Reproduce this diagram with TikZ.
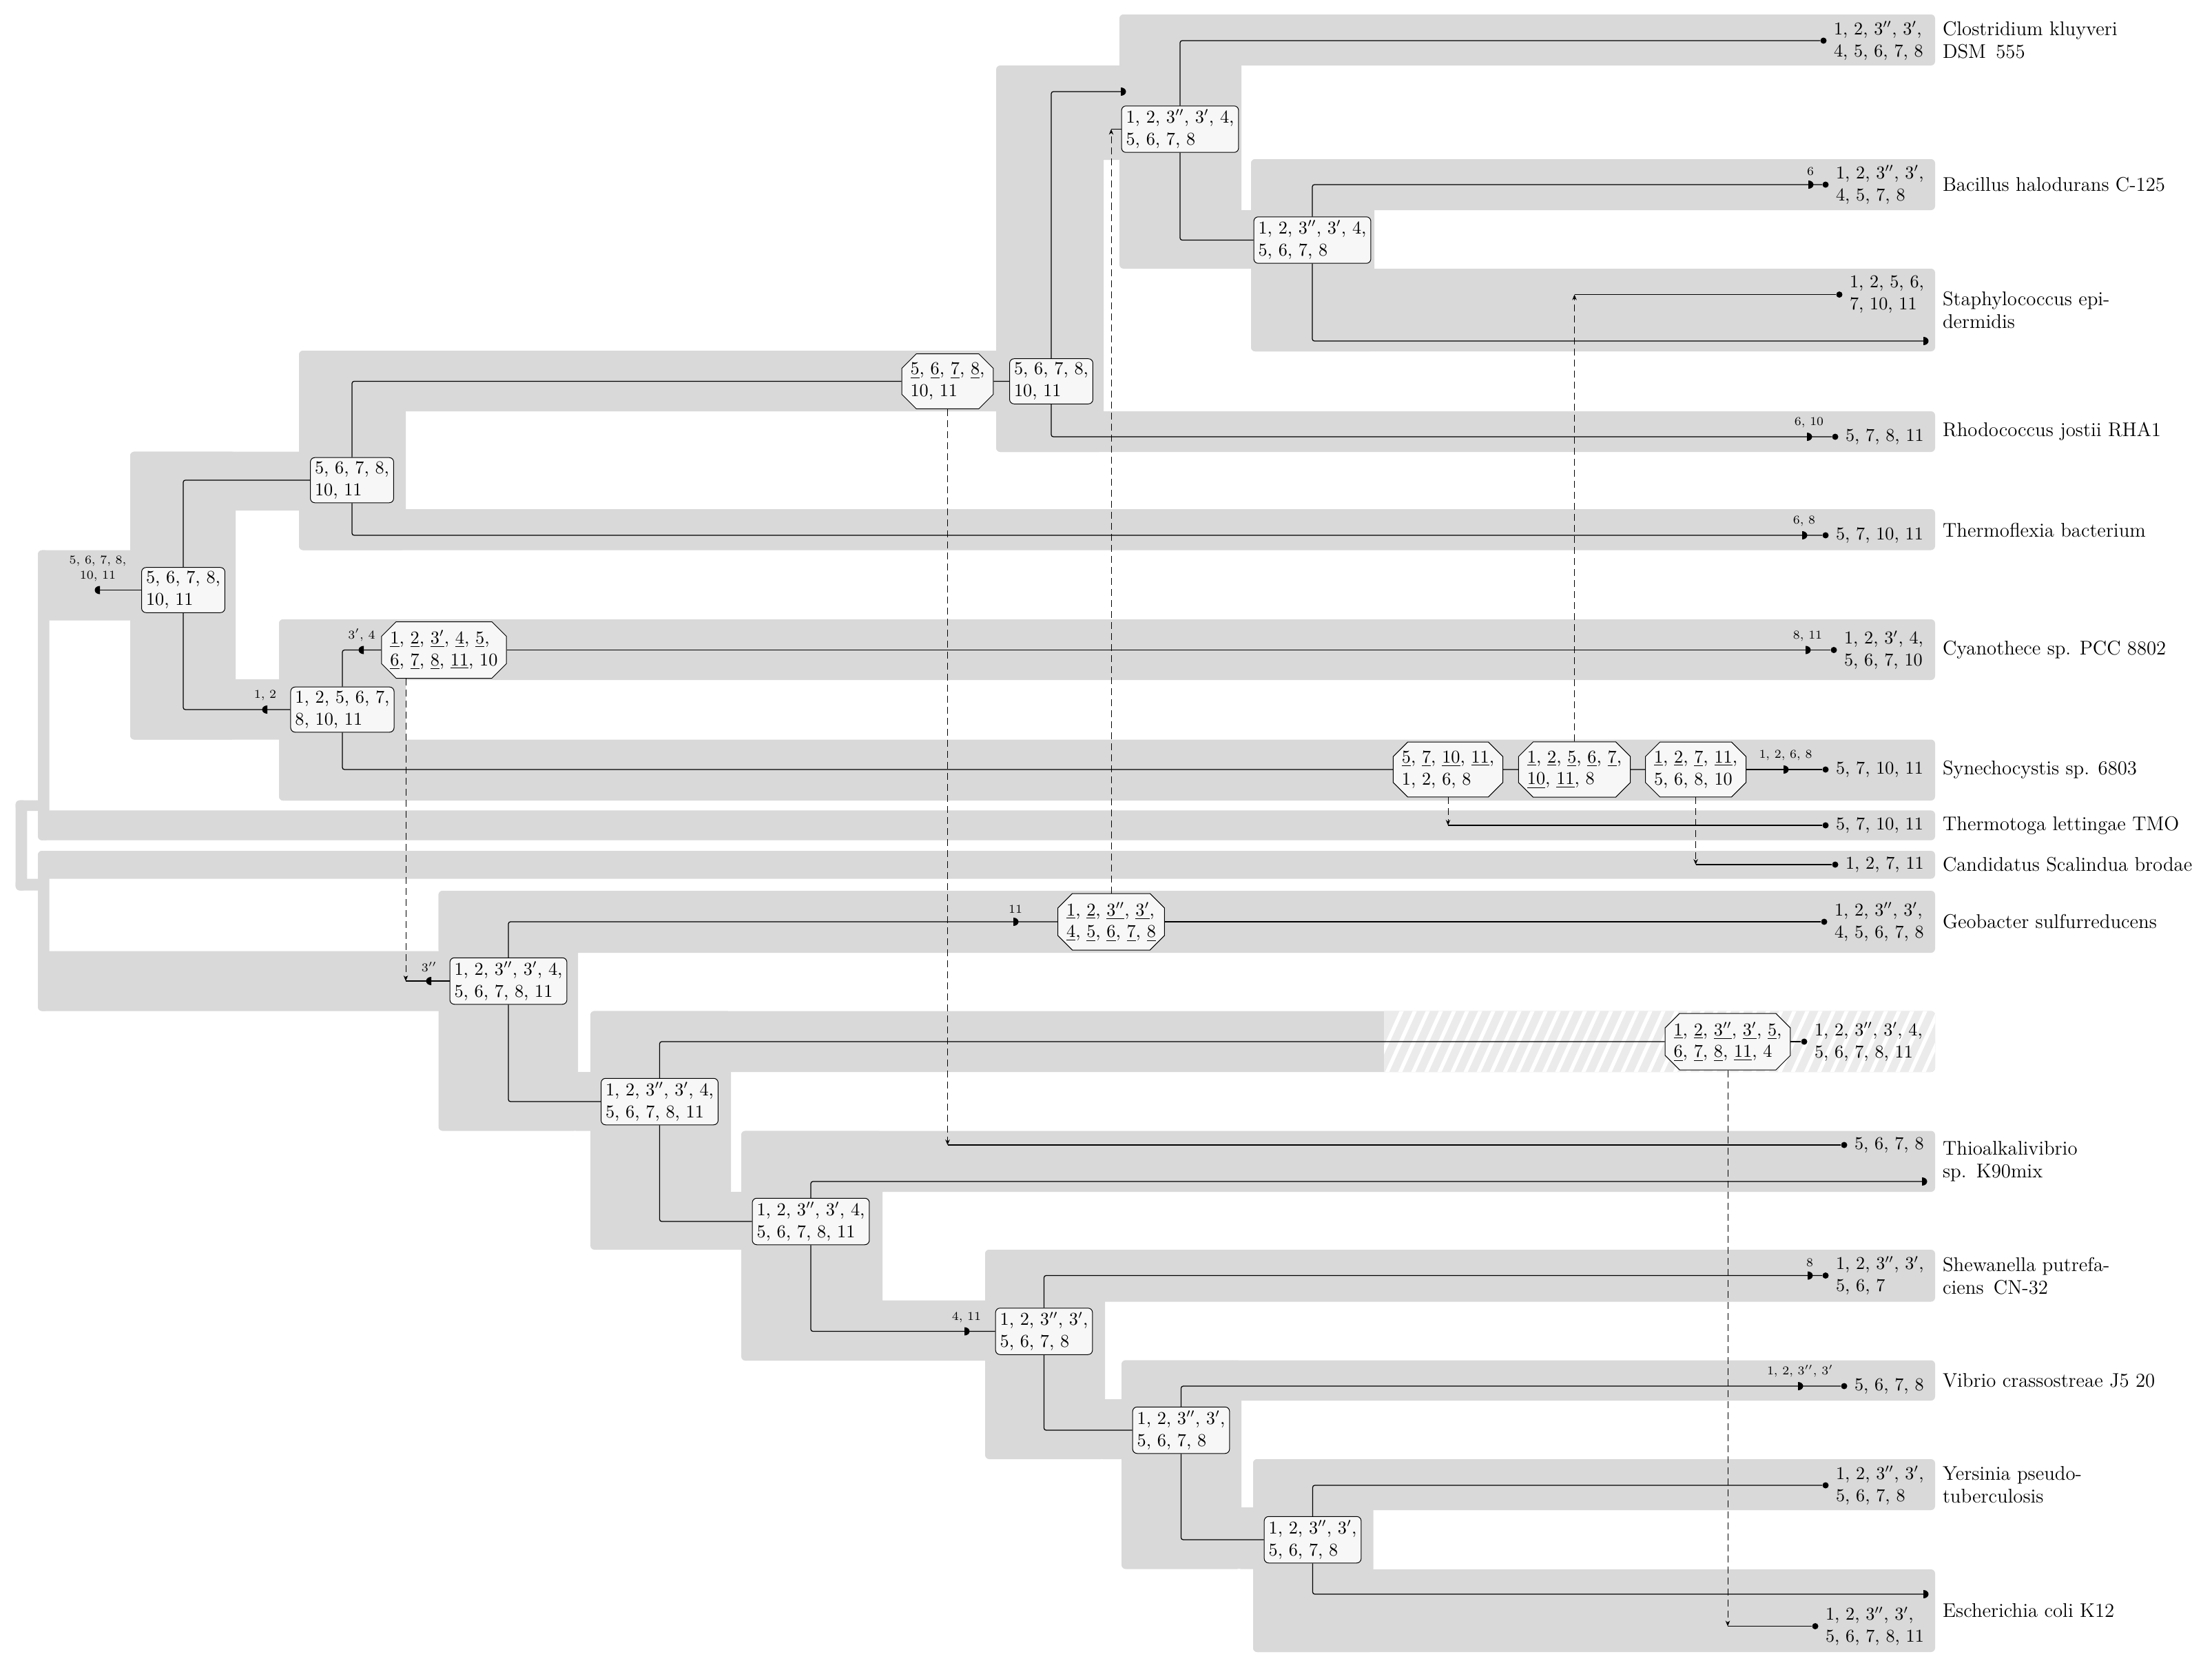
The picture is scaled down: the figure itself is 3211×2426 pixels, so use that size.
\documentclass[tikz,border=0pt]{standalone}
\usepackage{fontspec}
\usetikzlibrary{positioning,shapes.misc,arrows.meta}

\definecolor{bandgray}{HTML}{D9D9D9}
\definecolor{hatchgray}{HTML}{EBEBEB}
\definecolor{nodefill}{HTML}{F7F7F7}

\newcommand{\genefont}{\fontsize{10.5}{12.7}\selectfont}
\newcommand{\lossfont}{\fontsize{7}{8.5}\selectfont}
\newcommand{\spfont}{\fontsize{11.5}{13}\selectfont}
\newcommand{\twopr}{$''$}
\newcommand{\onepr}{$'$}
\newcommand{\xul}[1]{\underline{#1}}

\tikzstyle{band} = [fill=bandgray, rounded corners=2.4pt]
\tikzstyle{gnode} = [rectangle, rounded corners=2.6pt, draw=black, line width=0.4pt, fill=nodefill, align=left, inner xsep=2.6pt, inner ysep=2.2pt, font=\genefont]
\tikzstyle{xnode} = [chamfered rectangle, chamfered rectangle xsep=5pt, chamfered rectangle ysep=3.4pt, draw=black, line width=0.4pt, fill=nodefill, align=left, inner xsep=0pt, inner ysep=1.6pt, font=\genefont]
\tikzstyle{gline} = [line width=0.5pt, rounded corners=1.2pt]
\tikzstyle{xfer} = [line width=0.4pt, dash pattern=on 4pt off 2.4pt, -{Stealth[length=3.2pt,width=2.6pt]}]
\tikzstyle{leafdot} = [circle, fill=black, inner sep=0pt, minimum size=3.6pt]
\tikzstyle{leaflbl} = [anchor=west, align=left, inner sep=0pt, font=\genefont]
\tikzstyle{species} = [anchor=west, align=left, inner sep=0pt, font=\spfont]
\tikzstyle{losslbl} = [inner sep=0pt, align=center, font=\lossfont]

\tikzset{
  lossr/.pic={\fill (0pt,-2.4pt) arc[start angle=-90, end angle=90, x radius=3pt, y radius=2.4pt] -- cycle;},
  lossl/.pic={\fill (0pt,2.4pt) arc[start angle=90, end angle=270, x radius=3pt, y radius=2.4pt] -- cycle;}
}

\begin{document}
\begin{tikzpicture}[x=0.4pt, y=-0.4pt]
\useasboundingbox (0,0) rectangle (3211,2426);

% species tree, upper part
\fill[band] (1625,21) rectangle (2809,95);
\fill[band] (1625,21) rectangle (1802,390);
\fill[band] (1446,95) rectangle (1602,656);
\fill[band] (1590,95) rectangle (1640,232);
\fill[band] (1816,231) rectangle (2809,305);
\fill[band] (1816,231) rectangle (1995,510);
\fill[band] (1816,390) rectangle (2809,510);
\fill[band] (1790,305) rectangle (1830,390);
\fill[band] (1446,597) rectangle (2809,656);
\fill[band] (434,509) rectangle (1460,597);
\fill[band] (434,509) rectangle (589,798.5);
\fill[band] (434,739) rectangle (2809,798.5);
\fill[band] (189,655.6) rectangle (342,1073.5);
\fill[band] (189,655.6) rectangle (445,741);
\fill[band] (405,899) rectangle (589,1162);
\fill[band] (405,899) rectangle (2809,987);
\fill[band] (405,1073.5) rectangle (2809,1162);
\fill[band] (189,986) rectangle (415,1073.5);
\fill[band] (55,798.7) rectangle (200,900.5);
\fill[band] (55,798.7) rectangle (71.7,1219.7);
\fill[band] (55,1176.4) rectangle (2809,1219.7);
\fill[band] (22.7,1161.7) rectangle (39.3,1292.5);
\fill[band] (22.7,1161.7) rectangle (65,1177);
\fill[band] (22.7,1275.5) rectangle (65,1292.5);
\fill[band] (55,1235) rectangle (2809,1275.5);
\fill[band] (55,1235) rectangle (71.7,1467.5);
\fill[band] (55,1380.5) rectangle (650,1467.5);

% species tree, lower part
\fill[band] (636.5,1293) rectangle (839,1641.5);
\fill[band] (636.5,1293) rectangle (2809,1383);
\fill[band] (830,1556) rectangle (870,1641.5);
\fill[band] (857,1467.5) rectangle (1061,1814);
\fill[band] (857,1467.5) rectangle (2809,1556);
\fill[band] (1050,1730) rectangle (1090,1814);
\fill[band] (1076,1641.5) rectangle (1281,1975);
\fill[band] (1076,1641.5) rectangle (2809,1730);
\fill[band] (1270,1887.5) rectangle (1440,1975);
\fill[band] (1430,1814) rectangle (1604,2118);
\fill[band] (1430,1814) rectangle (2809,1889.5);
\fill[band] (1595,2031) rectangle (1640,2118);
\fill[band] (1628,1974.5) rectangle (1802,2277.5);
\fill[band] (1628,1974.5) rectangle (2809,2033);
\fill[band] (1795,2188) rectangle (1830,2277.5);
\fill[band] (1819,2118) rectangle (1993.5,2398);
\fill[band] (1819,2118) rectangle (2809,2192);
\fill[band] (1819,2278) rectangle (2809,2398);

\begin{scope}
  \clip[rounded corners=2.4pt] (857,1467.5) rectangle (2809,1556);
  \clip (2009,1400) rectangle (2900,1600);
  \fill[hatchgray] (2009,1400) rectangle (2900,1600);
  \foreach \k in {0,...,45}
    \draw[white, line width=2.2pt] (1990+19*\k,1566) -- ++(50,-110);
\end{scope}

% gene tree
\node[gnode] (L1) at (266,856.5) {5, 6, 7, 8,\\10, 11};
\node[gnode] (L2) at (511,697) {5, 6, 7, 8,\\10, 11};
\node[xnode] (R1) at (1375.5,553.5) {\xul{5}, \xul{6}, \xul{7}, \xul{8},\\10, 11};
\node[gnode] (R2) at (1526,553.5) {5, 6, 7, 8,\\10, 11};
\node[gnode] (C1) at (1713,187.5) {1, 2, 3\twopr, 3\onepr, 4,\\5, 6, 7, 8};
\node[gnode] (B1) at (1905,348.5) {1, 2, 3\twopr, 3\onepr, 4,\\5, 6, 7, 8};
\node[gnode] (Cy1) at (497,1030) {1, 2, 5, 6, 7,\\8, 10, 11};
\node[xnode] (Cy2) at (644.5,943.5) {\xul{1}, \xul{2}, \xul{3\onepr}, \xul{4}, \xul{5},\\\xul{6}, \xul{7}, \xul{8}, \xul{11}, 10};
\node[xnode] (S1) at (2102,1117) {\xul{5}, \xul{7}, \xul{10}, \xul{11},\\1, 2, 6, 8};
\node[xnode] (S2) at (2285.5,1117) {\xul{1}, \xul{2}, \xul{5}, \xul{6}, \xul{7},\\\xul{10}, \xul{11}, 8};
\node[xnode] (S3) at (2461.5,1117) {\xul{1}, \xul{2}, \xul{7}, \xul{11},\\5, 6, 8, 10};
\node[gnode] (G1) at (738,1424) {1, 2, 3\twopr, 3\onepr, 4,\\5, 6, 7, 8, 11};
\node[xnode] (Gx) at (1613,1338) {\xul{1}, \xul{2}, \xul{3\twopr}, \xul{3\onepr},\\\xul{4}, \xul{5}, \xul{6}, \xul{7}, \xul{8}};
\node[gnode] (G2) at (957.5,1599) {1, 2, 3\twopr, 3\onepr, 4,\\5, 6, 7, 8, 11};
\node[xnode] (Hx) at (2508,1512) {\xul{1}, \xul{2}, \xul{3\twopr}, \xul{3\onepr}, \xul{5},\\\xul{6}, \xul{7}, \xul{8}, \xul{11}, 4};
\node[gnode] (G3) at (1177,1773) {1, 2, 3\twopr, 3\onepr, 4,\\5, 6, 7, 8, 11};
\node[gnode] (N4) at (1515.5,1932.5) {1, 2, 3\twopr, 3\onepr,\\5, 6, 7, 8};
\node[gnode] (V1) at (1714.5,2076) {1, 2, 3\twopr, 3\onepr,\\5, 6, 7, 8};
\node[gnode] (Y1) at (1905.5,2235) {1, 2, 3\twopr, 3\onepr,\\5, 6, 7, 8};

% leaves
\node[leafdot] (dCl) at (2647,59) {};
\node[leafdot] (dBa) at (2650,268) {};
\node[leafdot] (dSt) at (2670,427.6) {};
\node[leafdot] (dRh) at (2664,634) {};
\node[leafdot] (dTf) at (2650,777) {};
\node[leafdot] (dCy) at (2662,943.5) {};
\node[leafdot] (dSy) at (2650,1117) {};
\node[leafdot] (dTm) at (2650,1198) {};
\node[leafdot] (dCa) at (2664,1255) {};
\node[leafdot] (dGe) at (2648,1338) {};
\node[leafdot] (dHa) at (2619,1512) {};
\node[leafdot] (dTh) at (2677,1662) {};
\node[leafdot] (dSh) at (2650,1851.5) {};
\node[leafdot] (dVi) at (2677,2012) {};
\node[leafdot] (dYe) at (2650,2156) {};
\node[leafdot] (dEc) at (2635,2360.5) {};

\node[leaflbl, right=3.8pt of dCl] (tCl) {1, 2, 3\twopr, 3\onepr,\\4, 5, 6, 7, 8};
\node[leaflbl, right=3.8pt of dBa] (tBa) {1, 2, 3\twopr, 3\onepr,\\4, 5, 7, 8};
\node[leaflbl, right=3.8pt of dSt] (tSt) {1, 2, 5, 6,\\7, 10, 11};
\node[leaflbl, right=3.8pt of dRh] (tRh) {5, 7, 8, 11};
\node[leaflbl, right=3.8pt of dTf] (tTf) {5, 7, 10, 11};
\node[leaflbl, right=3.8pt of dCy] (tCy) {1, 2, 3\onepr, 4,\\5, 6, 7, 10};
\node[leaflbl, right=3.8pt of dSy] (tSy) {5, 7, 10, 11};
\node[leaflbl, right=3.8pt of dTm] (tTm) {5, 7, 10, 11};
\node[leaflbl, right=3.8pt of dCa] (tCa) {1, 2, 7, 11};
\node[leaflbl, right=3.8pt of dGe] (tGe) {1, 2, 3\twopr, 3\onepr,\\4, 5, 6, 7, 8};
\node[leaflbl, right=3.8pt of dHa] (tHa) {1, 2, 3\twopr, 3\onepr, 4,\\5, 6, 7, 8, 11};
\node[leaflbl, right=3.8pt of dTh] (tTh) {5, 6, 7, 8};
\node[leaflbl, right=3.8pt of dSh] (tSh) {1, 2, 3\twopr, 3\onepr,\\5, 6, 7};
\node[leaflbl, right=3.8pt of dVi] (tVi) {5, 6, 7, 8};
\node[leaflbl, right=3.8pt of dYe] (tYe) {1, 2, 3\twopr, 3\onepr,\\5, 6, 7, 8};
\node[leaflbl, right=3.8pt of dEc] (tEc) {1, 2, 3\twopr, 3\onepr,\\5, 6, 7, 8, 11};

\node[species] (spCl) at (2819.5,58) {Clostridium kluyveri\\DSM\enspace 555};
\node[species] (spBa) at (2819.5,268) {Bacillus halodurans C-125};
\node[species] (spSt) at (2819.5,450) {Staphylococcus epi-\\dermidis};
\node[species] (spRh) at (2819.5,626.5) {Rhodococcus jostii RHA1};
\node[species] (spTf) at (2819.5,770) {Thermoflexia bacterium};
\node[species] (spCy) at (2819.5,943) {Cyanothece sp. PCC 8802};
\node[species] (spSy) at (2819.5,1117.5) {Synechocystis sp. 6803};
\node[species] (spTm) at (2819.5,1198) {Thermotoga lettingae TMO};
\node[species] (spCa) at (2819.5,1255) {Candidatus Scalindua brodae};
\node[species] (spGe) at (2819.5,1338) {Geobacter sulfurreducens};
\node[species] (spTh) at (2819.5,1686) {Thioalkalivibrio\\sp.\enspace K90mix};
\node[species] (spSh) at (2819.5,1852) {Shewanella putrefa-\\ciens\enspace CN-32};
\node[species] (spVi) at (2819.5,2004) {Vibrio crassostreae J5 20};
\node[species] (spYe) at (2819.5,2155) {Yersinia pseudo-\\tuberculosis};
\node[species] (spEc) at (2819.5,2338) {Escherichia coli K12};

% losses
\coordinate (mRoot) at (145,856.5);
\coordinate (m12) at (388,1030);
\coordinate (m34) at (528,943.5);
\coordinate (m3pp) at (626,1424);
\coordinate (m11) at (1471,1338);
\coordinate (m411) at (1400,1932.5);
\coordinate (mC1) at (1627,133);
\coordinate (m6) at (2625,268);
\coordinate (m610) at (2623,634);
\coordinate (m68) at (2616,777);
\coordinate (m811) at (2621,943.5);
\coordinate (m1268) at (2589,1117);
\coordinate (m8) at (2624,1851.5);
\coordinate (m1233) at (2610,2012);
\coordinate (eSt) at (2792,495);
\coordinate (eTh) at (2790,1715);
\coordinate (eEc) at (2792,2314);
\coordinate (xG) at (589,1424);

\draw[gline] (L1.west) -- (mRoot);
\draw[gline] (L1.north) |- (L2.west);
\draw[gline] (L1.south) |- (m12) -- (Cy1.west);
\draw[gline] (L2.north) |- (R1.west);
\draw[gline] (R1) -- (R2);
\draw[gline] (L2.south) |- (m68) -- (dTf);
\draw[gline] (R2.north) |- (mC1);
\draw[gline] (R2.south) |- (m610) -- (dRh);
\draw[gline] (C1.north) |- (dCl);
\draw[gline] (C1.south) |- (B1.west);
\draw[gline] (B1.north) |- (m6) -- (dBa);
\draw[gline] (B1.south) |- (eSt);
\draw[gline] (Cy1.north) |- (m34) -- (Cy2.west);
\draw[gline] (Cy2.east) -- (m811) -- (dCy);
\draw[gline] (Cy1.south) |- (S1.west);
\draw[gline] (S1) -- (S2);
\draw[gline] (S2) -- (S3);
\draw[gline] (S3.east) -- (m1268) -- (dSy);
\draw[gline] (xG) -- (m3pp) -- (G1.west);
\draw[gline] (G1.north) |- (m11) -- (Gx.west);
\draw[gline] (Gx.east) -- (dGe);
\draw[gline] (G1.south) |- (G2.west);
\draw[gline] (G2.north) |- (Hx.west);
\draw[gline] (Hx.east) -- (dHa);
\draw[gline] (G2.south) |- (G3.west);
\draw[gline] (G3.north) |- (eTh);
\draw[gline] (G3.south) |- (m411) -- (N4.west);
\draw[gline] (N4.north) |- (m8) -- (dSh);
\draw[gline] (N4.south) |- (V1.west);
\draw[gline] (V1.north) |- (m1233) -- (dVi);
\draw[gline] (V1.south) |- (Y1.west);
\draw[gline] (Y1.north) |- (dYe);
\draw[gline] (Y1.south) |- (eEc);

% transfers
\draw[xfer] (Gx.north) -- (Gx.north |- C1.west);
\draw[gline] (Gx.north |- C1.west) -- (C1.west);
\draw[xfer] (S2.north) -- (S2.north |- dSt);
\draw[gline] (S2.north |- dSt) -- (dSt);
\draw[xfer] (S1.south) -- (S1.south |- dTm);
\draw[gline] (S1.south |- dTm) -- (dTm);
\draw[xfer] (S3.south) -- (S3.south |- dCa);
\draw[gline] (S3.south |- dCa) -- (dCa);
\draw[xfer] (R1.south) -- (R1.south |- dTh);
\draw[gline] (R1.south |- dTh) -- (dTh);
\draw[xfer] (Cy2.south -| xG) -- (xG);
\draw[xfer] (Hx.south) -- (Hx.south |- dEc);
\draw[gline] (Hx.south |- dEc) -- (dEc);

\pic at (mRoot) {lossl};
\pic at (m12) {lossl};
\pic at (m34) {lossl};
\pic at (m3pp) {lossl};
\pic at (m11) {lossr};
\pic at (m411) {lossr};
\pic at (mC1) {lossr};
\pic at (m6) {lossr};
\pic at (m610) {lossr};
\pic at (m68) {lossr};
\pic at (m811) {lossr};
\pic at (m1268) {lossr};
\pic at (m8) {lossr};
\pic at (m1233) {lossr};
\pic at (eSt) {lossr};
\pic at (eTh) {lossr};
\pic at (eEc) {lossr};

\node[losslbl, above=5pt of mRoot, xshift=-1.2pt] (lRoot) {5, 6, 7, 8,\\10, 11};
\node[losslbl, above=5pt of m12, xshift=-1.2pt] (l12) {1, 2};
\node[losslbl, above=5pt of m34, xshift=-1.2pt] (l34) {3\onepr, 4};
\node[losslbl, above=5pt of m3pp, xshift=-1.2pt] (l3pp) {3\twopr};
\node[losslbl, above=5pt of m11, xshift=1.2pt] (l11) {11};
\node[losslbl, above=5pt of m411, xshift=1.2pt] (l411) {4, 11};
\node[losslbl, above=5pt of m6, xshift=1.2pt] (l6) {6};
\node[losslbl, above=5pt of m610, xshift=1.2pt] (l610) {6, 10};
\node[losslbl, above=5pt of m68, xshift=1.2pt] (l68) {6, 8};
\node[losslbl, above=5pt of m811, xshift=1.2pt] (l811) {8, 11};
\node[losslbl, above=5pt of m1268, xshift=1.2pt] (l1268) {1, 2, 6, 8};
\node[losslbl, above=5pt of m8, xshift=1.2pt] (l8) {8};
\node[losslbl, above=5pt of m1233, xshift=1.2pt] (l1233) {1, 2, 3\twopr, 3\onepr};

\end{tikzpicture}
\end{document}
